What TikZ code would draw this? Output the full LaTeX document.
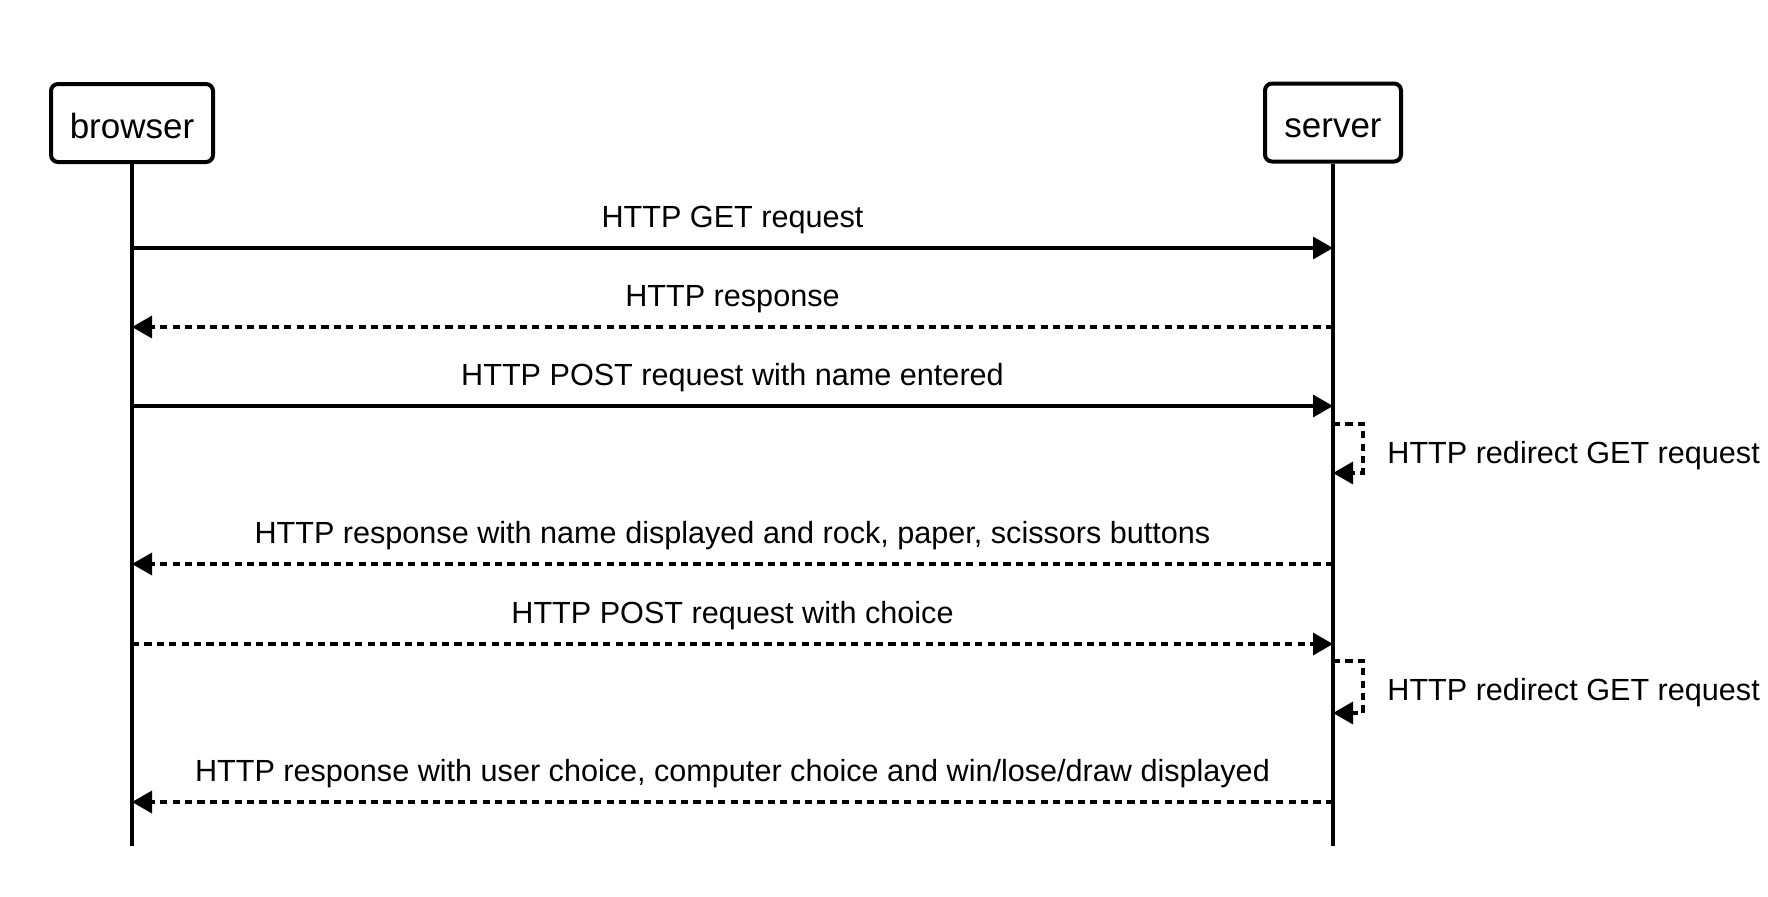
\documentclass[tikz,border=0pt]{standalone}
\usepackage{fontspec}
\setmainfont{Liberation Sans}
\usetikzlibrary{arrows.meta}
\begin{document}
\begin{tikzpicture}[x=0.5pt,y=-0.5pt,
  actor/.style={draw, line width=2pt, rounded corners=3.5pt, minimum width=81pt, minimum height=39pt, inner sep=0pt, text height=15pt, text depth=0pt, font=\fontsize{17.5}{20}\selectfont},
  life/.style={line width=1.75pt},
  msg/.style={line width=1.75pt, -{Triangle[length=10pt,width=11pt]}},
  ret/.style={msg, dash pattern=on 3.6pt off 2.6pt},
  lbl/.style={font=\fontsize{15.3}{18}\selectfont, inner sep=0pt, anchor=base},
  sidelbl/.style={font=\fontsize{15.3}{18}\selectfont, inner sep=0pt, anchor=base west}]
\useasboundingbox (0,0) rectangle (1768,896);
\fill[white] (0,0) rectangle (1768,896);
\node[actor, minimum width=81pt] (browser) at (132,123) {browser};
\node[actor, minimum width=68pt] (server) at (1333,122.5) {server};
\coordinate (bend) at (132,846);
\coordinate (send) at (1333,846);
\draw[life] (browser.south) -- (bend);
\draw[life] (server.south) -- (send);
% messages
\foreach \n/\y in {1/248,2/327,3/406,4/564,5/644,6/802}{
  \coordinate (b\n) at (132,\y);
  \coordinate (s\n) at (1333,\y);
}
\draw[msg] (b1) -- (s1) node[lbl, midway, yshift=10.5pt] (l1) {HTTP GET request};
\draw[ret] (s2) -- (b2) node[lbl, midway, yshift=10.5pt] (l2) {HTTP response};
\draw[msg] (b3) -- (s3) node[lbl, midway, yshift=10.5pt] (l3) {HTTP POST request with name entered};
\draw[ret] (s4) -- (b4) node[lbl, midway, yshift=10.5pt] (l4) {HTTP response with name displayed and rock, paper, scissors buttons};
\draw[ret] (b5) -- (s5) node[lbl, midway, yshift=10.5pt] (l5) {HTTP POST request with choice};
\draw[ret] (s6) -- (b6) node[lbl, midway, yshift=10.5pt] (l6) {HTTP response with user choice, computer choice and win/lose/draw displayed};
% self loops
\coordinate (r1a) at (1333,424);
\coordinate (r1b) at (1333,473);
\coordinate (r2a) at (1333,661);
\coordinate (r2b) at (1333,713);
\draw[ret] (r1a) -- (1363,424) -- (1363,473) -- (r1b);
\node[sidelbl] (l7) at (1387,463) {HTTP redirect GET request};
\draw[ret] (r2a) -- (1363,661) -- (1363,713) -- (r2b);
\node[sidelbl] (l8) at (1387,700) {HTTP redirect GET request};
\end{tikzpicture}
\end{document}
